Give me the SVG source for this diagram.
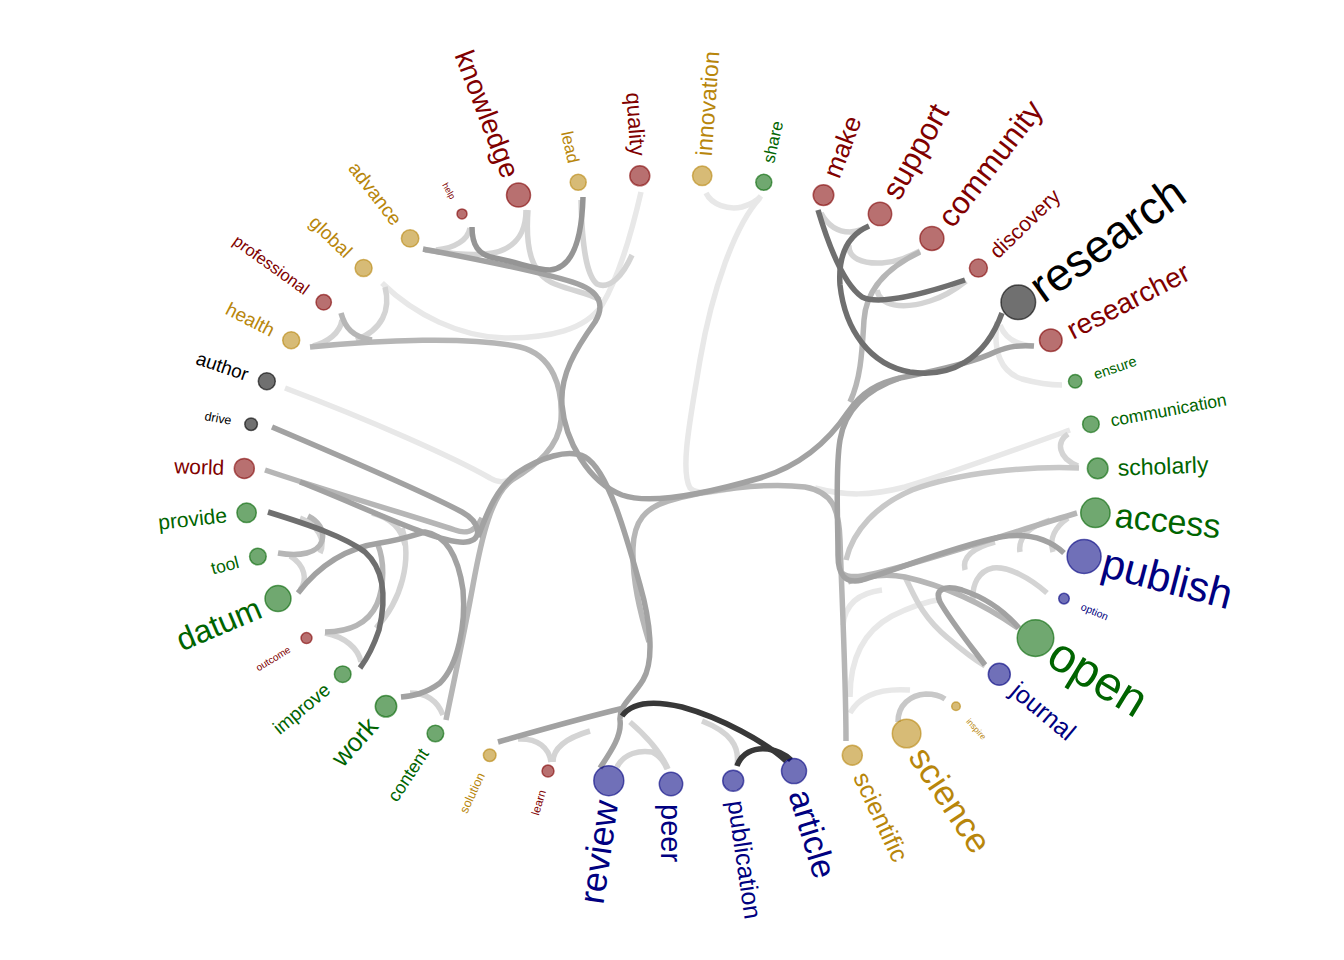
<svg xmlns="http://www.w3.org/2000/svg" width="1344" height="960" viewBox="0 0 1344 960">
<style>
.e path{fill:none;stroke-width:5.5;stroke-linecap:butt}
.v{stroke:#e8e8e8}.l{stroke:#d4d4d4}.l2{stroke:#c8c8c8}.m2{stroke:#b6b6b6}.m{stroke:#a2a2a2}.m3{stroke:#959595}.d{stroke:#6f6f6f}.k{stroke:#383838}
.n circle{fill-opacity:.56;stroke-opacity:.6;stroke-width:1.5}
.n text{font-family:"Liberation Sans",Arial,sans-serif}
.red circle{fill:#800000;stroke:#800000}.red text{fill:#800000}
.gold circle{fill:#b8860b;stroke:#b8860b}.gold text{fill:#b8860b}
.green circle{fill:#006400;stroke:#006400}.green text{fill:#006400}
.blue circle{fill:#000080;stroke:#000080}.blue text{fill:#000080}
.blk circle{fill:#000;stroke:#000}.blk text{fill:#000}
</style>
<rect width="1344" height="960" fill="#fff"/>
<g id="connectors" class="e">
<path class="v" d="M760,198 C735,225 712,290 700,360 C690,420 680,470 690,488 C698,496 715,492 735,488"/>
<path class="v" d="M641,192 C630,240 617,280 602,305 C585,330 550,338 505,338 C460,337 415,315 382,283"/>
<path class="v" d="M1070,430 C1020,448 960,470 905,487 C870,496 845,496 815,488"/>
<path class="v" d="M285,388 C370,420 455,458 490,478 C503,486 510,480 522,470"/>
<path class="v" d="M706,193 C712,205 728,210 742,207 C752,204 758,200 761,196"/>
<path class="v" d="M1000,325 C1005,338 1015,345 1033,346"/>
<path class="v" d="M997,322 C993,350 1000,372 1022,379 C1040,384 1052,385 1062,385"/>
<path class="v" d="M843,625 C845,605 858,593 882,590"/>
<path class="v" d="M850,697 C850,660 862,632 892,616 C912,606 930,601 942,599"/>
<path class="v" d="M850,713 C860,695 882,688 910,690"/>
<path class="l" d="M526,210 C526,238 510,252 485,254 C462,256 442,252 425,250"/>
<path class="l" d="M470,228 C468,240 455,248 436,250"/>
<path class="l" d="M528,210 C525,250 532,275 555,284 C575,292 590,293 600,300"/>
<path class="l" d="M581,200 C582,245 586,275 597,284 C610,290 623,275 632,255"/>
<path class="l" d="M385,287 C391,310 382,330 356,340"/>
<path class="l" d="M342,320 C340,333 328,342 313,346"/>
<path class="l" d="M821,213 C828,226 838,232 850,232 C858,231 864,229 869,226"/>
<path class="l" d="M849,245 C848,258 862,264 882,263 C898,262 910,256 920,251"/>
<path class="l" d="M877,290 C880,306 902,310 930,301 C946,296 956,289 966,281"/>
<path class="l" d="M1068,434 C1056,442 1058,458 1078,466"/>
<path class="l2" d="M1079,468 C1030,466 960,472 912,490 C877,505 853,530 846,560"/>
<path class="l" d="M1053,552 C1049,539 1055,527 1068,518"/>
<path class="l" d="M1020,552 C1018,540 1026,528 1050,520"/>
<path class="l" d="M965,570 C962,558 972,548 995,542"/>
<path class="l" d="M1047,593 C1030,578 1008,566 993,568 C978,571 972,585 973,600"/>
<path class="l" d="M905,577 C913,592 920,615 948,638 C963,651 975,660 985,666"/>
<path class="l" d="M300,518 C318,525 326,540 320,553"/>
<path class="l" d="M290,556 C305,565 308,580 300,590"/>
<path class="l" d="M402,528 C412,560 402,600 376,628"/>
<path class="l" d="M372,513 C392,518 402,530 405,545"/>
<path class="l" d="M325,633 C345,637 358,648 361,662"/>
<path class="l" d="M410,693 C425,693 437,700 443,715"/>
<path class="l" d="M518,739 C538,738 549,748 551,762"/>
<path class="l" d="M553,762 C553,748 566,738 590,731"/>
<path class="l" d="M617,767 C624,753 640,750 652,752 C661,756 665,764 667,769"/>
<path class="l" d="M668,769 C660,750 645,735 630,722"/>
<path class="l" d="M737,765 C740,746 730,732 702,721"/>
<path class="l2" d="M898,722 C898,705 910,695 926,694 C936,694 942,697 945,699"/>
<path class="m2" d="M310,347 C380,340 470,336 520,347 C553,355 563,388 561,420 C559,447 537,465 512,480 C492,494 482,535 473,585 C463,640 452,690 446,720"/>
<path class="m2" d="M278,553 C300,557 318,553 322,541 C325,530 318,521 308,516"/>
<path class="m2" d="M325,632 C348,632 368,624 377,604 C385,584 384,560 378,545"/>
<path class="m2" d="M341,313 C345,328 353,337 372,340"/>
<path class="m2" d="M1077,513 C1030,527 960,550 900,567 C868,576 850,580 842,573"/>
<path class="m2" d="M846,741 C846,680 842,600 840,540 C839,508 832,492 805,487 C765,482 705,490 668,501 C646,508 634,520 633,548 C632,580 640,612 649,642"/>
<path class="m2" d="M1018,628 C985,605 945,586 905,577 C880,572 860,578 848,582"/>
<path class="m2" d="M920,252 C886,268 866,290 864,320 C862,352 861,378 850,402"/>
<path class="m2" d="M265,470 C330,492 410,515 455,530 C468,535 476,530 482,518"/>
<path class="m" d="M498,742 C540,730 590,716 624,708"/>
<path class="m" d="M423,249 C470,258 545,272 578,284 C602,293 604,307 595,322 C575,350 560,375 562,405 C565,440 588,482 622,495 C650,505 705,494 760,478 C800,466 828,442 848,412 C862,392 878,383 900,378 C940,370 975,362 995,352 C1010,346 1020,345 1034,346"/>
<path class="m" d="M600,768 C612,750 622,735 620,720 C619,705 632,698 643,680 C655,660 650,620 640,585 C626,535 608,470 585,457 C568,448 540,458 517,473 C497,488 488,510 478,537"/>
<path class="m" d="M272,427 C345,458 425,492 462,512 C480,522 484,540 466,542 C440,545 360,505 300,482"/>
<path class="m" d="M298,593 C318,567 345,548 380,543 C400,540 415,535 425,532 C445,535 458,555 463,590 C466,625 458,665 440,683 C425,694 412,696 401,697"/>
<path class="m" d="M1064,553 C1050,540 1030,532 1000,537 C960,545 900,568 862,580 C845,584 838,575 838,555 C838,520 835,470 840,440 C845,410 865,390 900,378"/>
<path class="m" d="M985,665 C970,645 950,620 940,602 C934,589 945,585 962,590 C987,598 1006,613 1019,628"/>
<path class="m3" d="M472,227 C472,245 478,255 495,258 C520,263 537,270 550,270 C575,268 582,232 583,197"/>
<path class="d" d="M268,512 C310,525 345,537 365,552 C385,570 386,600 379,630 C373,648 366,660 360,668"/>
<path class="d" d="M818,210 C830,250 845,285 862,297 C880,306 930,292 965,280"/>
<path class="d" d="M869,226 C848,235 838,255 840,285 C845,330 870,365 910,372 C950,378 985,360 1002,313"/>
<path class="k" d="M786,761 C765,742 722,718 682,707 C652,700 632,702 622,716"/>
<path class="k" d="M737,766 C741,754 753,747 768,749 C780,751 788,757 791,760"/>
</g>
<g id="node-peer" class="n blue" transform="translate(671,784)"><circle r="11.7"/><text transform="rotate(90)" x="20" dy="0.35em" font-size="29">peer</text></g>
<g id="node-review" class="n blue" transform="translate(608.8,780.7)"><circle r="15"/><text transform="rotate(-81.63)" x="-20" text-anchor="end" dy="0.35em" font-size="36">review</text></g>
<g id="node-learn" class="n red" transform="translate(548,771.1)"><circle r="6"/><text transform="rotate(-73.26)" x="-20" text-anchor="end" dy="0.35em" font-size="11.5">learn</text></g>
<g id="node-solution" class="n gold" transform="translate(489.7,755.2)"><circle r="6.3"/><text transform="rotate(-64.88)" x="-20" text-anchor="end" dy="0.35em" font-size="12.5">solution</text></g>
<g id="node-content" class="n green" transform="translate(435.4,733.5)"><circle r="8.3"/><text transform="rotate(-56.51)" x="-20" text-anchor="end" dy="0.35em" font-size="18">content</text></g>
<g id="node-work" class="n green" transform="translate(386,706.3)"><circle r="10.7"/><text transform="rotate(-48.14)" x="-20" text-anchor="end" dy="0.35em" font-size="26">work</text></g>
<g id="node-improve" class="n green" transform="translate(342.7,674.2)"><circle r="8.3"/><text transform="rotate(-39.77)" x="-20" text-anchor="end" dy="0.35em" font-size="19">improve</text></g>
<g id="node-outcome" class="n red" transform="translate(306.5,638.1)"><circle r="5.5"/><text transform="rotate(-31.4)" x="-20" text-anchor="end" dy="0.35em" font-size="10">outcome</text></g>
<g id="node-datum" class="n green" transform="translate(278,598.6)"><circle r="13"/><text transform="rotate(-23.02)" x="-20" text-anchor="end" dy="0.35em" font-size="32">datum</text></g>
<g id="node-tool" class="n green" transform="translate(257.9,556.5)"><circle r="8.3"/><text transform="rotate(-14.65)" x="-20" text-anchor="end" dy="0.35em" font-size="17.5">tool</text></g>
<g id="node-provide" class="n green" transform="translate(246.6,512.8)"><circle r="9.7"/><text transform="rotate(-6.28)" x="-20" text-anchor="end" dy="0.35em" font-size="21">provide</text></g>
<g id="node-world" class="n red" transform="translate(244.3,468.4)"><circle r="10"/><text transform="rotate(2.09)" x="-20" text-anchor="end" dy="0.35em" font-size="21">world</text></g>
<g id="node-drive" class="n blk" transform="translate(251.1,424.2)"><circle r="6.3"/><text transform="rotate(10.47)" x="-20" text-anchor="end" dy="0.35em" font-size="12.5">drive</text></g>
<g id="node-author" class="n blk" transform="translate(266.8,381.2)"><circle r="8.5"/><text transform="rotate(18.84)" x="-20" text-anchor="end" dy="0.35em" font-size="19">author</text></g>
<g id="node-health" class="n gold" transform="translate(291.2,340.3)"><circle r="8.5"/><text transform="rotate(27.21)" x="-20" text-anchor="end" dy="0.35em" font-size="19">health</text></g>
<g id="node-professional" class="n red" transform="translate(323.7,302.3)"><circle r="7.7"/><text transform="rotate(35.58)" x="-20" text-anchor="end" dy="0.35em" font-size="16.5">professional</text></g>
<g id="node-global" class="n gold" transform="translate(363.6,268.1)"><circle r="8.5"/><text transform="rotate(43.95)" x="-20" text-anchor="end" dy="0.35em" font-size="19">global</text></g>
<g id="node-advance" class="n gold" transform="translate(410.1,238.4)"><circle r="8.7"/><text transform="rotate(52.33)" x="-20" text-anchor="end" dy="0.35em" font-size="19.5">advance</text></g>
<g id="node-help" class="n red" transform="translate(462,213.9)"><circle r="5"/><text transform="rotate(60.7)" x="-18" text-anchor="end" dy="0.35em" font-size="9">help</text></g>
<g id="node-knowledge" class="n red" transform="translate(518.5,195.1)"><circle r="12"/><text transform="rotate(69.07)" x="-20" text-anchor="end" dy="0.35em" font-size="28">knowledge</text></g>
<g id="node-lead" class="n gold" transform="translate(578.2,182.3)"><circle r="8"/><text transform="rotate(77.44)" x="-20" text-anchor="end" dy="0.35em" font-size="17">lead</text></g>
<g id="node-quality" class="n red" transform="translate(639.8,175.8)"><circle r="10"/><text transform="rotate(85.81)" x="-20" text-anchor="end" dy="0.35em" font-size="22">quality</text></g>
<g id="node-innovation" class="n gold" transform="translate(702.2,175.8)"><circle r="9.7"/><text transform="rotate(-85.81)" x="20" dy="0.35em" font-size="23">innovation</text></g>
<g id="node-share" class="n green" transform="translate(763.8,182.3)"><circle r="8"/><text transform="rotate(-77.44)" x="20" dy="0.35em" font-size="17">share</text></g>
<g id="node-make" class="n red" transform="translate(823.5,195.1)"><circle r="10.3"/><text transform="rotate(-69.07)" x="20" dy="0.35em" font-size="26">make</text></g>
<g id="node-support" class="n red" transform="translate(880,213.9)"><circle r="11.7"/><text transform="rotate(-60.7)" x="20" dy="0.35em" font-size="31">support</text></g>
<g id="node-community" class="n red" transform="translate(931.9,238.4)"><circle r="12"/><text transform="rotate(-52.33)" x="20" dy="0.35em" font-size="31">community</text></g>
<g id="node-discovery" class="n red" transform="translate(978.4,268.1)"><circle r="9"/><text transform="rotate(-43.95)" x="20" dy="0.35em" font-size="21">discovery</text></g>
<g id="node-research" class="n blk" transform="translate(1018.3,302.3)"><circle r="17.3"/><text transform="rotate(-35.58)" x="19.5" dy="0.35em" font-size="46">research</text></g>
<g id="node-researcher" class="n red" transform="translate(1050.8,340.3)"><circle r="11.3"/><text transform="rotate(-27.21)" x="20" dy="0.35em" font-size="28">researcher</text></g>
<g id="node-ensure" class="n green" transform="translate(1075.2,381.2)"><circle r="6.7"/><text transform="rotate(-18.84)" x="20" dy="0.35em" font-size="14.5">ensure</text></g>
<g id="node-communication" class="n green" transform="translate(1090.9,424.2)"><circle r="8.3"/><text transform="rotate(-10.47)" x="20" dy="0.35em" font-size="17.5">communication</text></g>
<g id="node-scholarly" class="n green" transform="translate(1097.7,468.4)"><circle r="10.3"/><text transform="rotate(-2.09)" x="20" dy="0.35em" font-size="23">scholarly</text></g>
<g id="node-access" class="n green" transform="translate(1095.4,512.8)"><circle r="14.7"/><text transform="rotate(6.28)" x="20" dy="0.35em" font-size="34">access</text></g>
<g id="node-publish" class="n blue" transform="translate(1084.1,556.5)"><circle r="17"/><text transform="rotate(14.65)" x="19.5" dy="0.35em" font-size="42">publish</text></g>
<g id="node-option" class="n blue" transform="translate(1064,598.6)"><circle r="5.3"/><text transform="rotate(23.02)" x="19" dy="0.35em" font-size="10.5">option</text></g>
<g id="node-open" class="n green" transform="translate(1035.5,638.1)"><circle r="18.3"/><text transform="rotate(31.4)" x="20.5" dy="0.35em" font-size="48">open</text></g>
<g id="node-journal" class="n blue" transform="translate(999.3,674.2)"><circle r="11"/><text transform="rotate(39.77)" x="20" dy="0.35em" font-size="25">journal</text></g>
<g id="node-inspire" class="n gold" transform="translate(956,706.3)"><circle r="4.3"/><text transform="rotate(48.14)" x="18" dy="0.35em" font-size="8.5">inspire</text></g>
<g id="node-science" class="n gold" transform="translate(906.6,733.5)"><circle r="14.3"/><text transform="rotate(56.51)" x="20" dy="0.35em" font-size="35">science</text></g>
<g id="node-scientific" class="n gold" transform="translate(852.3,755.2)"><circle r="10"/><text transform="rotate(64.88)" x="20" dy="0.35em" font-size="25">scientific</text></g>
<g id="node-article" class="n blue" transform="translate(794,771.1)"><circle r="12.5"/><text transform="rotate(73.26)" x="20" dy="0.35em" font-size="34">article</text></g>
<g id="node-publication" class="n blue" transform="translate(733.2,780.7)"><circle r="10.5"/><text transform="rotate(81.63)" x="20" dy="0.35em" font-size="25">publication</text></g>
</svg>
